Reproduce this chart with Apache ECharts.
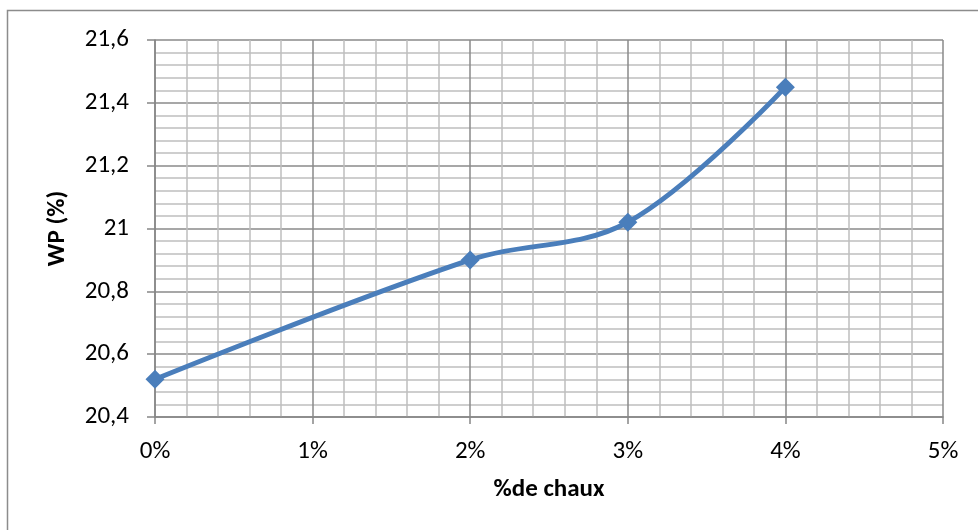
<!DOCTYPE html>
<html>
<head>
<meta charset="utf-8">
<script src="https://cdn.jsdelivr.net/npm/echarts@6/dist/echarts.min.js"></script>
<style>
  html, body { margin: 0; padding: 0; background: #fff; }
  #chart { width: 978px; height: 530px; }
</style>
</head>
<body>
<div id="chart"></div>
<script>
// Lime content (%) and the corresponding plastic limit WP (%)
const limePercent = [0, 2, 3, 4];
const wpValues = [20.52, 20.9, 21.02, 21.45];

const xTitle = '%de chaux';
const yTitle = 'WP (%)';

const FONT = 'Carlito, "Liberation Sans Narrow", "Liberation Sans", sans-serif';

const chart = echarts.init(document.getElementById('chart'));

chart.setOption({
  animation: false,
  backgroundColor: '#ffffff',
  graphic: [{
    type: 'rect',
    shape: { x: 7.5, y: 10.5, width: 1000, height: 600 },
    style: { fill: 'none', stroke: '#8c8c8c', lineWidth: 1.5 },
    silent: true,
    z: -1
  }],
  grid: { left: 155, right: 35, top: 40, bottom: 113, show: false },
  xAxis: {
    type: 'value',
    min: 0, max: 5, interval: 1,
    name: xTitle,
    nameLocation: 'middle',
    nameGap: 60,
    nameTextStyle: { fontFamily: FONT, fontSize: 25, fontWeight: 'bold', color: '#000' },
    axisLine: { show: true, lineStyle: { color: '#868686', width: 1.5 } },
    axisTick: { show: true, length: 7, lineStyle: { color: '#868686', width: 1.5 } },
    axisLabel: {
      formatter: v => v + '%',
      fontFamily: FONT, fontSize: 25, color: '#000', margin: 22
    },
    splitLine: { show: true, lineStyle: { color: '#8a8a8a', width: 1.5 } },
    minorTick: { show: false, splitNumber: 5 },
    minorSplitLine: { show: true, lineStyle: { color: '#bfbfbf', width: 1.5 } }
  },
  yAxis: {
    type: 'value',
    min: 20.4, max: 21.6, interval: 0.2,
    name: yTitle,
    nameLocation: 'middle',
    nameGap: 85,
    nameTextStyle: { fontFamily: FONT, fontSize: 25, fontWeight: 'bold', color: '#000' },
    axisLine: { show: true, lineStyle: { color: '#868686', width: 1.5 } },
    axisTick: { show: true, length: 8, lineStyle: { color: '#868686', width: 1.5 } },
    axisLabel: {
      formatter: v => String(Math.round(v * 10) / 10).replace('.', ','),
      fontFamily: FONT, fontSize: 25, color: '#000', margin: 26
    },
    splitLine: { show: true, lineStyle: { color: '#8a8a8a', width: 1.5 } },
    minorTick: { show: false, splitNumber: 5 },
    minorSplitLine: { show: true, lineStyle: { color: '#bfbfbf', width: 1.5 } }
  },
  series: [{
    type: 'line',
    data: limePercent.map((x, i) => [x, wpValues[i]]),
    smooth: 0.35,
    symbol: 'diamond',
    symbolSize: 19,
    lineStyle: { color: '#4a7ebb', width: 5 },
    itemStyle: { color: '#4a7ebb' },
    z: 5
  }]
});
</script>
</body>
</html>
